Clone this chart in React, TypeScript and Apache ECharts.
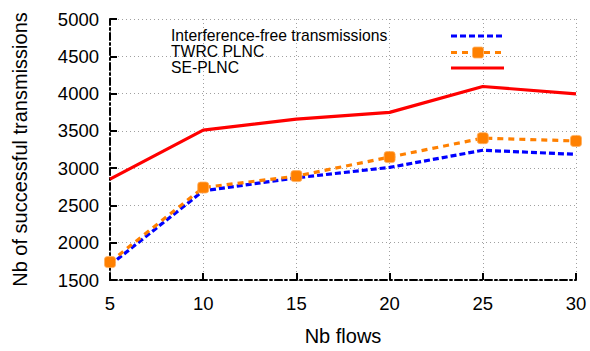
import React, { useEffect, useRef } from "react";
import * as echarts from "echarts";

const flows = [5, 10, 15, 20, 25, 30];
const interferenceFree = [1700, 2695, 2870, 3010, 3240, 3185];
const twrcPlnc = [1740, 2740, 2893, 3148, 3402, 3365];
const sePlnc = [2852, 3510, 3657, 3748, 4095, 3995];
const seriesNames = ["Interference-free transmissions", "TWRC PLNC", "SE-PLNC"];
const yTitle = "Nb of successful transmissions";
const xTitle = "Nb flows";

const FONT = "'Liberation Sans', Arial, sans-serif";
const BLUE = "#0000ff";
const ORANGE = "#ff8000";
const RED = "#ff0000";

export default function App() {
  const ref = useRef<HTMLDivElement>(null);
  useEffect(() => {
    if (!ref.current) return;
    const chart = echarts.init(ref.current, undefined, { renderer: "svg" });
    const pairs = (ys: number[]) => flows.map((x, i) => [x, ys[i]]);
    const axisLine = {
      show: true,
      lineStyle: { color: "#000", width: 2, type: [7, 3, 2, 3] as any },
    };
    const axisTick = { show: true, inside: true, length: 7, lineStyle: { color: "#000", width: 2 } };
    const splitLine = { show: true, lineStyle: { color: "#a0a0a0", width: 1, type: [1, 3] as any } };
    const legendRows = [
      { y: 36, name: seriesNames[0] },
      { y: 52, name: seriesNames[1] },
      { y: 68, name: seriesNames[2] },
    ];
    chart.setOption({
      animation: false,
      backgroundColor: "#fff",
      textStyle: { fontFamily: FONT },
      grid: { left: 110, right: 14, top: 19, bottom: 64, containLabel: false },
      xAxis: {
        type: "value",
        min: 5,
        max: 30,
        interval: 5,
        name: xTitle,
        nameLocation: "middle",
        nameGap: 46,
        nameTextStyle: { fontSize: 20, color: "#000", fontFamily: FONT },
        axisLine,
        axisTick,
        splitLine,
        axisLabel: { fontSize: 18.5, color: "#000", margin: 14, fontFamily: FONT, formatter: (v: number) => String(v) },
      },
      yAxis: {
        type: "value",
        min: 1500,
        max: 5000,
        interval: 500,
        name: yTitle,
        nameLocation: "middle",
        nameGap: 80,
        nameTextStyle: { fontSize: 20, color: "#000", fontFamily: FONT },
        axisLine,
        axisTick,
        splitLine,
        axisLabel: { fontSize: 18.5, color: "#000", margin: 11, fontFamily: FONT, formatter: (v: number) => String(v) },
      },
      series: [
        {
          name: seriesNames[0],
          type: "line",
          data: pairs(interferenceFree),
          symbol: "none",
          lineStyle: { color: BLUE, width: 3.2, type: [6, 3] as any },
          z: 2,
        },
        {
          name: seriesNames[1],
          type: "line",
          data: pairs(twrcPlnc),
          symbol: "roundRect",
          symbolSize: 11,
          itemStyle: { color: ORANGE, borderColor: "#ffb060", borderWidth: 0.8 },
          lineStyle: { color: ORANGE, width: 3.2, type: [6, 5] as any },
          z: 3,
        },
        {
          name: seriesNames[2],
          type: "line",
          data: pairs(sePlnc),
          symbol: "none",
          lineStyle: { color: RED, width: 3.2 },
          z: 4,
        },
      ],
      graphic: [
        ...legendRows.map((r) => ({
          type: "text",
          left: 171,
          top: r.y - 9,
          style: { text: r.name, fontSize: 15.7, fill: "#000", fontFamily: FONT },
          z: 10,
        })),
        {
          type: "line",
          shape: { x1: 451, y1: 36, x2: 504, y2: 36 },
          style: { stroke: BLUE, lineWidth: 3.2, lineDash: [6, 3] },
          z: 10,
        },
        {
          type: "line",
          shape: { x1: 451, y1: 52.5, x2: 504, y2: 52.5 },
          style: { stroke: ORANGE, lineWidth: 3.2, lineDash: [6, 5] },
          z: 10,
        },
        {
          type: "rect",
          shape: { x: 472.5, y: 47, width: 11, height: 11, r: 2 },
          style: { fill: ORANGE, stroke: "#ffb060", lineWidth: 0.8 },
          z: 11,
        },
        {
          type: "line",
          shape: { x1: 451, y1: 68, x2: 504, y2: 68 },
          style: { stroke: RED, lineWidth: 3.2 },
          z: 10,
        },
      ],
    });
    return () => chart.dispose();
  }, []);
  return <div ref={ref} style={{ width: 590, height: 351, position: "absolute", left: 0, top: 0 }} />;
}
